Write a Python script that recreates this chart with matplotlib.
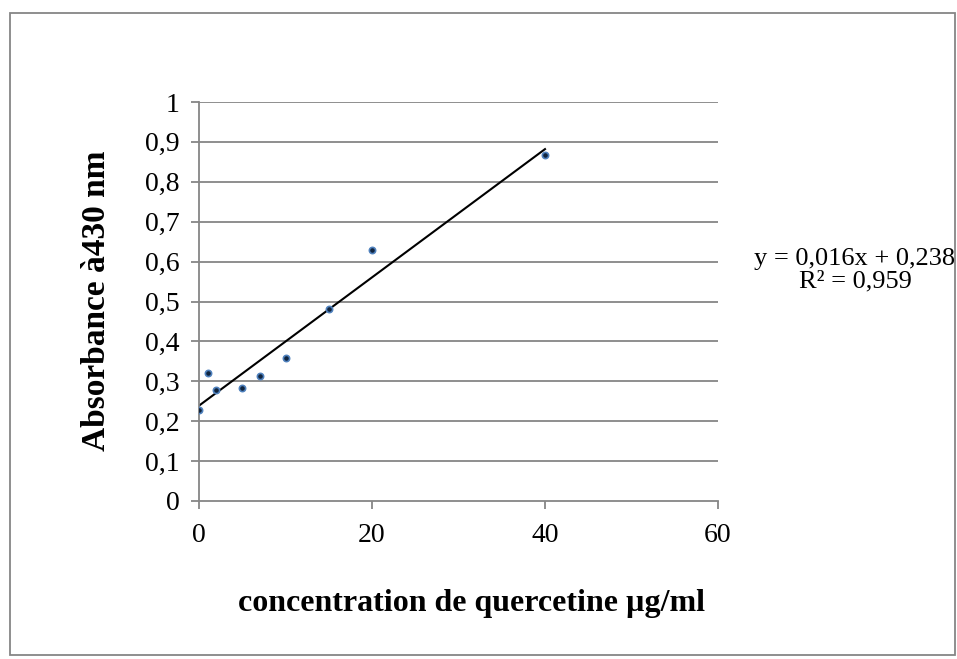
import matplotlib
matplotlib.use("Agg")
import matplotlib.pyplot as plt
from matplotlib.patches import Rectangle
import numpy as np

# concentration (ug/ml) and absorbance at 430 nm
conc = [0, 1, 2, 5, 7, 10, 15, 20, 40]
absorb = [0.228, 0.321, 0.278, 0.283, 0.313, 0.358, 0.481, 0.629, 0.867]
x_ticks = [0, 20, 40, 60]
y_ticks = [0, 0.1, 0.2, 0.3, 0.4, 0.5, 0.6, 0.7, 0.8, 0.9, 1.0]
eq_text = "y = 0,016x + 0,238\nR² = 0,959"

plt.rcParams['font.family'] = ['Liberation Serif', 'DejaVu Serif']
grey = '#868686'

fig = plt.figure(figsize=(9.57, 6.59), dpi=100)
ax = fig.add_axes([199/957, 1 - 501/659, (718-199)/957, (501-102)/659])

# outer chart frame
fig.patches.append(Rectangle((10/957, 1 - 655/659), (955-10)/957, (655-13)/659,
                             transform=fig.transFigure, fill=False,
                             edgecolor=grey, linewidth=1.3))

for y in y_ticks[1:]:
    ax.axhline(y, color=grey, linewidth=1.3, zorder=0)

# linear trend line over the data range
a, b = np.polyfit(conc, absorb, 1)
xs = np.array([min(conc), max(conc)])
ax.plot(xs, a * xs + b, color='black', linewidth=1.5, zorder=2)

ax.plot(conc, absorb, linestyle='none', marker='o', markersize=4.5,
        markerfacecolor='#10253f', markeredgecolor='#4f81bd', markeredgewidth=1.2, zorder=3)

ax.set_xlim(0, 60)
ax.set_ylim(0, 1)
ax.set_xticks(x_ticks)
ax.set_yticks(y_ticks)
ax.set_yticklabels([f"{v:g}".replace('.', ',') for v in y_ticks])

for s in ['top', 'right']:
    ax.spines[s].set_visible(False)
for s in ['left', 'bottom']:
    ax.spines[s].set_color(grey)
    ax.spines[s].set_linewidth(1.3)
ax.tick_params(axis='both', colors=grey, labelcolor='black', labelsize=20,
               length=6, width=1.3, direction='out')
ax.tick_params(axis='y', pad=8)
ax.tick_params(axis='x', pad=10)

fig.text(97/957, 1 - 301/659, "Absorbance à430 nm", rotation=90, fontsize=24,
         fontweight='bold', ha='center', va='center')
fig.text(471/957, 1 - 603/659, "concentration de quercetine µg/ml", fontsize=23,
         fontweight='bold', ha='center', va='center')
fig.text(855/957, 1 - 270/659, eq_text, fontsize=19, ha='center', va='center',
         multialignment='center', linespacing=1.05)

fig.savefig("out.png", dpi=100)
